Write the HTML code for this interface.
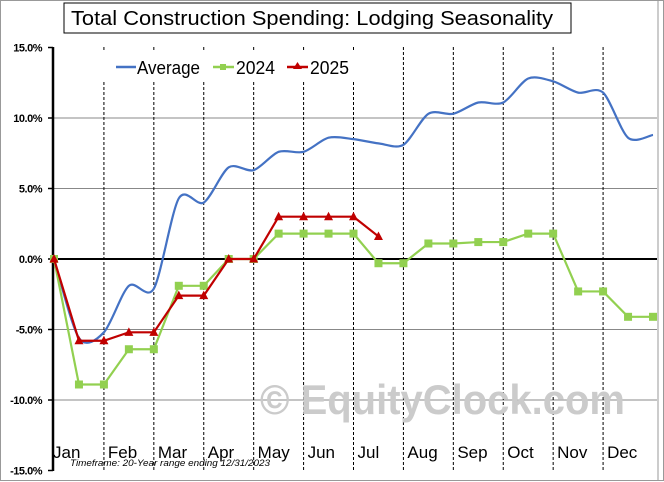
<!DOCTYPE html>
<html><head><meta charset="utf-8"><style>
body{margin:0;background:#fff;}
svg{display:block;font-family:"Liberation Sans",sans-serif;}
</style></head><body>
<svg id="chart" width="664" height="482" viewBox="0 0 664 482">
<rect x="0.5" y="0.5" width="663" height="480" fill="#fff" stroke="#999"/>
<g id="grid"></g>
<g id="watermark"><text x="260" y="414" font-size="42" font-weight="bold" fill="#cbcbcb" textLength="365" lengthAdjust="spacingAndGlyphs">© EquityClock.com</text></g>
<g id="series"></g>
<rect x="100" y="52" width="262" height="30" fill="#fff"/>
<g font-size="18">
<g><line x1="116" y1="67" x2="136" y2="67" stroke="#4472c4" stroke-width="2.5"/><text x="137" y="74" fill="#000" textLength="63" lengthAdjust="spacingAndGlyphs">Average</text></g>
<g><line x1="213" y1="67" x2="234" y2="67" stroke="#92d050" stroke-width="2.5"/><rect x="220" y="64" width="6" height="6" fill="#92d050"/><text x="236" y="74" textLength="39" lengthAdjust="spacingAndGlyphs">2024</text></g>
<g><line x1="287" y1="67" x2="308" y2="67" stroke="#c00000" stroke-width="2.5"/><polygon points="297.5,62 302,69 293,69" fill="#c00000"/><text x="310" y="74" textLength="39" lengthAdjust="spacingAndGlyphs">2025</text></g>
</g>
<rect x="64" y="3" width="507" height="30" fill="#fff" stroke="#000"/>
<text x="71" y="25" font-size="20" textLength="482" lengthAdjust="spacingAndGlyphs">Total Construction Spending: Lodging Seasonality</text>
<text x="70" y="466" font-size="9.5" font-style="italic" textLength="200" lengthAdjust="spacingAndGlyphs">Timeframe: 20-Year range ending 12/31/2023</text>
</svg>
<script>
const months=["Jan","Feb","Mar","Apr","May","Jun","Jul","Aug","Sep","Oct","Nov","Dec"];
const yTicks=[15,10,5,0,-5,-10,-15];
const avgValues=[0,-5.6,-5.2,-1.9,-2.1,4.3,4.0,6.5,6.3,7.6,7.6,8.6,8.5,8.2,8.1,10.3,10.3,11.1,11.1,12.8,12.6,11.8,11.8,8.6,8.8];
const values2024=[0,-8.9,-8.9,-6.4,-6.4,-1.9,-1.9,0,0,1.8,1.8,1.8,1.8,-0.3,-0.3,1.1,1.1,1.2,1.2,1.8,1.8,-2.3,-2.3,-4.1,-4.1];
const values2025=[0,-5.8,-5.8,-5.2,-5.2,-2.6,-2.6,0,0,3.0,3.0,3.0,3.0,1.6];
const NS="http://www.w3.org/2000/svg";
const X0=54,X1=653,Y0=259,PX=14.1;
const xs=i=>X0+i*(X1-X0)/24;
const ys=v=>Y0-v*PX;
function mk(t,a,p){const e=document.createElementNS(NS,t);for(const k in a)e.setAttribute(k,a[k]);p.appendChild(e);return e;}
const grid=document.getElementById('grid');
yTicks.forEach(v=>{
  if(v!==0&&Math.abs(v)!==15){const l=mk('line',{x1:53,x2:657,y1:ys(v),y2:ys(v),stroke:'#888','stroke-width':1},grid);
  
  }
  const tk=mk('line',{x1:48,x2:53,y1:ys(v),y2:ys(v),stroke:'#000','stroke-width':1.5},grid);
  
  
  const t=mk('text',{x:42,y:ys(v)+4,'text-anchor':'end','font-size':11,'font-weight':'bold','letter-spacing':'-0.5'},grid);
  t.textContent=v.toFixed(1)+'%';
  
  
});
months.forEach((m,i)=>{
  const xd=xs(2*i+2);
  if(i<11){const d=mk('line',{x1:xd,x2:xd,y1:47,y2:470,stroke:'#000','stroke-width':1,'stroke-dasharray':'3,2'},grid);
  
  }
  const t=mk('text',{x:xs(2*i)+(i==0?-1:4),y:458,'font-size':17},grid);
  t.textContent=m;
  
  
});
const zl=mk('line',{x1:53,x2:657,y1:Y0,y2:Y0,stroke:'#000','stroke-width':2},grid);


const ax=mk('line',{x1:53,x2:53,y1:47,y2:471,stroke:'#000','stroke-width':2.5},grid);


const rb=mk('line',{x1:658,x2:658,y1:0,y2:481,stroke:'#999','stroke-width':1},grid);


const S=document.getElementById('series');
const pts=avgValues.map((v,i)=>[xs(i),ys(v)]);
let d='M'+pts[0][0]+','+pts[0][1];
const k=7;
for(let i=0;i<pts.length-1;i++){const p0=pts[Math.max(0,i-1)],p1=pts[i],p2=pts[i+1],p3=pts[Math.min(pts.length-1,i+2)];
d+=' C'+(p1[0]+(p2[0]-p0[0])/k)+','+(p1[1]+(p2[1]-p0[1])/k)+' '+(p2[0]-(p3[0]-p1[0])/k)+','+(p2[1]-(p3[1]-p1[1])/k)+' '+p2[0]+','+p2[1];}
const avg=mk('path',{d:d,fill:'none',stroke:'#4472c4','stroke-width':2.2},S);


const g24=mk('polyline',{points:values2024.map((v,i)=>xs(i)+','+ys(v)).join(' '),fill:'none',stroke:'#92d050','stroke-width':2.2},S);


values2024.forEach((v,i)=>{const r=mk('rect',{x:xs(i)-4,y:ys(v)-4,width:8,height:8,fill:'#92d050'},S);

});
const g25=mk('polyline',{points:values2025.map((v,i)=>xs(i)+','+ys(v)).join(' '),fill:'none',stroke:'#c00000','stroke-width':2.2},S);


values2025.forEach((v,i)=>{const x=xs(i),y=ys(v);const p=mk('polygon',{points:(x)+','+(y-5)+' '+(x+4.5)+','+(y+3.5)+' '+(x-4.5)+','+(y+3.5),fill:'#c00000'},S);

});
</script>
</body></html>
